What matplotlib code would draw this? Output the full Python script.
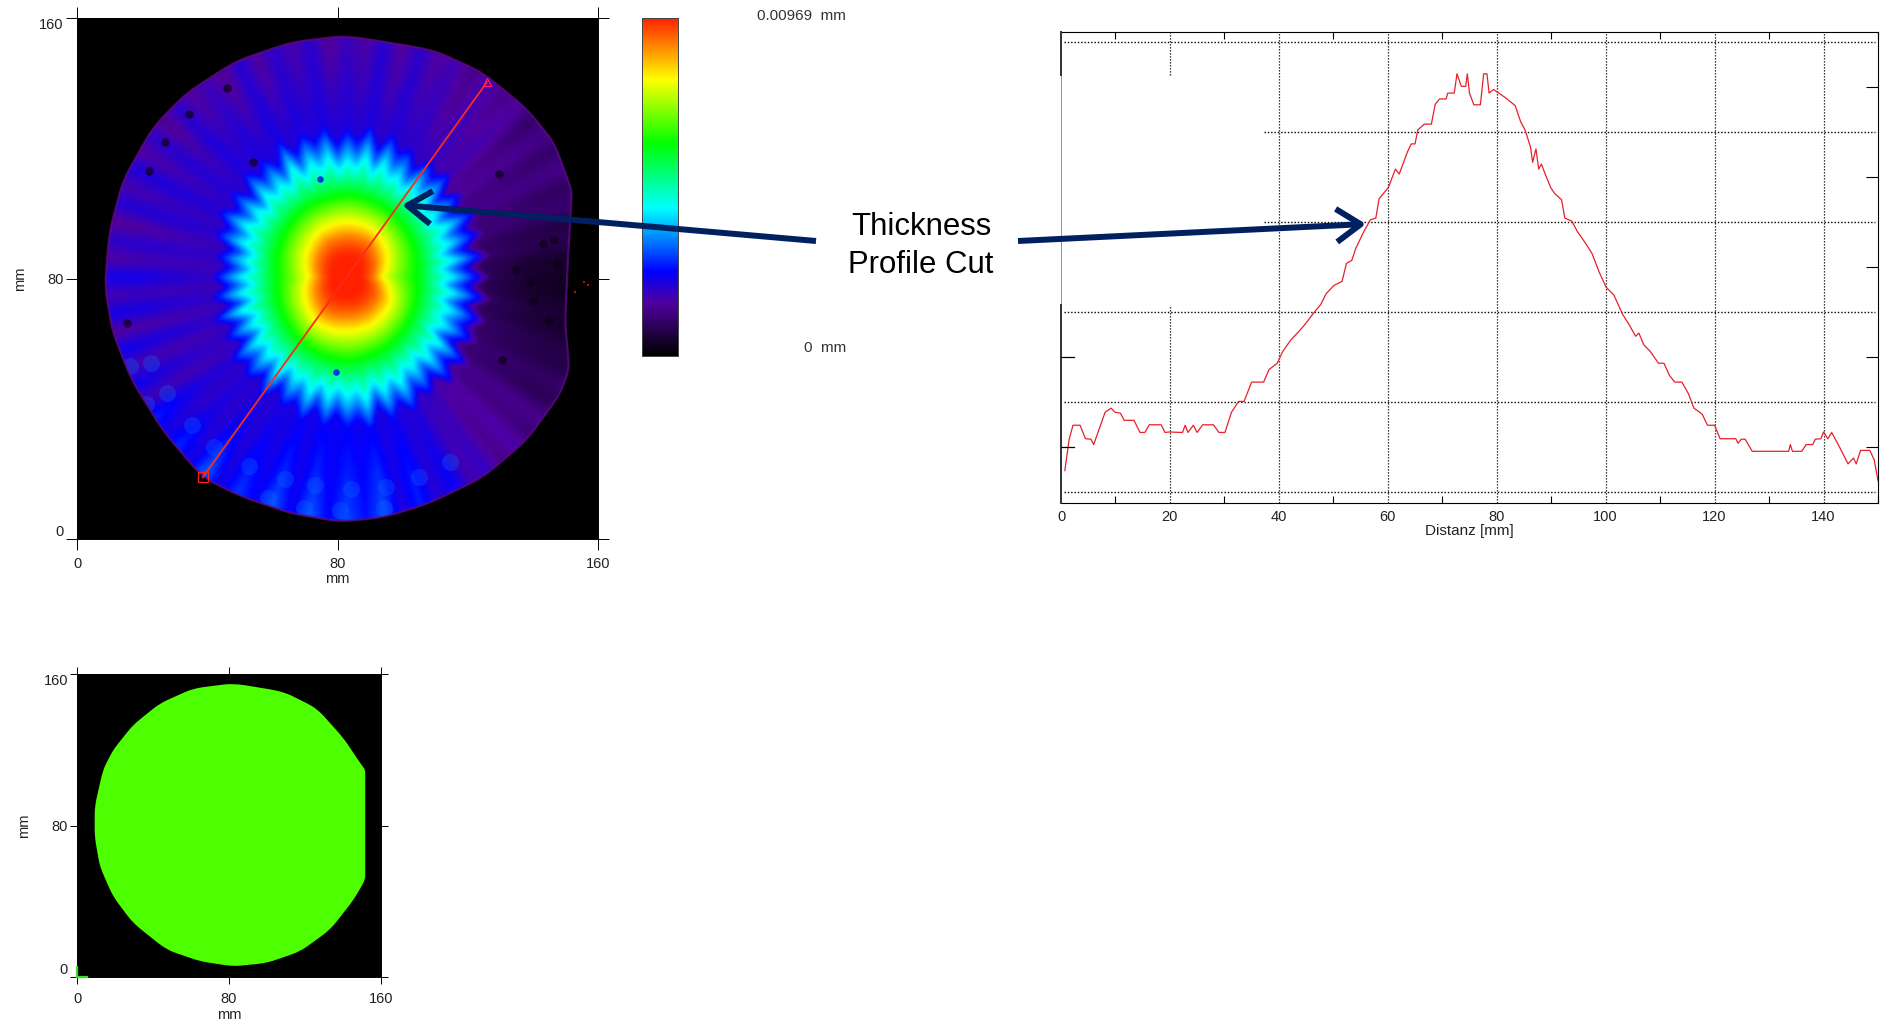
import numpy as np
import matplotlib
matplotlib.use('Agg')
import matplotlib.pyplot as plt
from matplotlib.colors import LinearSegmentedColormap
from matplotlib.patches import Polygon, FancyArrowPatch

plt.rcParams['font.family'] = ['Liberation Sans', 'DejaVu Sans']

# profile cut (right chart), distance in mm, thickness in um
distance = [0.7,1.5,2.2,3.5,4.5,5.5,6.0,7.0,8.1,9.2,9.9,10.9,11.6,13.4,14.5,15.4,16.2,18.4,19.1,19.9,
            22.3,22.8,23.3,24.3,25.0,26.0,28.0,29.0,30.1,31.3,32.6,33.6,35.0,37.2,38.2,39.7,40.7,42.2,43.7,44.9,
            46.2,47.7,48.7,50.1,51.6,52.4,53.4,54.1,55.6,56.8,57.8,58.4,60.1,61.4,62.1,63.6,64.3,65.0,65.5,66.7,
            68.0,68.7,69.5,70.7,71.0,72.2,72.7,73.5,74.3,74.6,75.0,75.8,77.0,77.6,78.2,78.6,79.4,80.4,81.9,83.4,
            84.4,85.2,86.2,86.6,87.2,87.7,88.2,88.9,89.9,90.6,91.9,92.5,93.8,94.8,96.3,97.5,98.8,100.1,101.5,103.1,
            104.3,105.5,106.1,107.0,108.2,109.7,110.7,111.7,112.7,114.0,115.2,116.2,117.7,118.7,120.0,121.0,123.9,124.3,124.9,125.6,
            126.9,133.6,133.9,134.3,136.0,136.8,138.0,138.5,139.5,140.0,140.8,141.5,143.0,144.5,145.5,146.0,146.8,148.5,149.3,150.0]
thickness = [0.47,1.17,1.48,1.48,1.18,1.17,1.05,1.39,1.77,1.86,1.77,1.75,1.59,1.59,1.32,1.32,1.49,1.49,1.32,1.33,
             1.32,1.48,1.32,1.48,1.32,1.49,1.49,1.32,1.32,1.77,2.01,2.01,2.44,2.44,2.72,2.86,3.12,3.38,3.57,3.74,
             3.95,4.17,4.41,4.59,4.68,5.08,5.15,5.41,5.79,6.05,6.09,6.52,6.77,7.18,7.07,7.56,7.74,7.74,8.05,8.18,
             8.18,8.62,8.74,8.74,8.87,8.87,9.30,9.02,9.02,9.30,8.87,8.61,8.61,9.30,9.30,8.87,8.95,8.87,8.74,8.59,
             8.23,8.05,7.67,7.33,7.63,7.18,7.29,7.07,6.77,6.64,6.50,6.09,6.02,5.79,5.53,5.30,4.89,4.55,4.38,3.95,
             3.72,3.46,3.53,3.27,3.12,2.86,2.86,2.59,2.44,2.44,2.18,1.86,1.73,1.48,1.48,1.18,1.18,1.08,1.17,1.17,
             0.90,0.90,1.05,0.90,0.90,1.05,1.05,1.17,1.18,1.33,1.18,1.32,0.98,0.62,0.75,0.62,0.92,0.92,0.71,0.25]

# wafer outlines, mm
wafer_x = [82.4,109.4,124.6,138.0,146.5,151.6,151.9,150.7,149.9,151.2,148.2,138.1,124.6,107.7,94.2,80.8,65.6,50.4,38.6,26.8,16.7,10.8,8.6,9.9,14.2,23.4,33.6,48.7,65.6]
wafer_y = [154.6,150.2,143.2,132.2,121.8,107.9,105.6,84.8,66.3,52.4,44.3,30.4,18.9,10.8,6.7,5.3,7.9,13.1,18.9,32.7,48.9,64.0,77.9,94.1,110.3,126.5,136.9,146.7,152.5]
disc_x = [82.3,108.7,126.2,140.3,149.1,151.7,151.7,151.7,151.7,145.6,133.3,117.5,99.9,82.3,64.7,47.1,29.5,19.0,12.0,9.3,9.3,13.7,19.0,29.5,43.6,61.2]
disc_y = [155.1,150.7,141.9,126.1,112.9,109.4,100.0,60.0,51.3,40.8,25.0,13.5,7.4,5.6,8.3,14.4,28.5,42.5,58.4,74.2,90.0,109.4,119.9,133.1,144.5,152.4]

# thickness map, um: slowly varying outer part on a 20 mm grid (rows from y=160 down)
bg_axis_x = [0,20,40,60,80,100,120,140,160]
bg_axis_y = [160,140,120,100,80,60,40,20,0]
bg_rows = [[1.5,1.5,1.5,1.6,1.6,1.6,1.5,1.5,1.5],
           [1.5,1.5,1.6,1.8,1.9,1.8,1.6,1.2,1.2],
           [1.5,1.7,1.9,2.1,2.2,2.0,1.6,1.2,1.1],
           [1.7,1.8,1.9,2.1,2.3,1.9,1.3,1.0,0.8],
           [1.8,1.9,1.8,2.0,2.3,1.9,1.0,0.4,0.2],
           [1.8,1.8,1.8,2.0,2.3,2.0,1.1,0.7,0.4],
           [2.1,2.2,2.0,2.1,2.3,2.1,1.5,1.1,1.0],
           [2.4,2.5,2.6,2.4,2.5,2.4,1.9,1.4,1.2],
           [2.6,2.6,2.8,2.8,2.8,2.5,2.0,1.4,1.2]]

# central hump: radius to the blue edge and shape of the red core, by direction
hump_angle = [0,30,60,90,120,150,180,210,240,270,300,330,360]
hump_radius = [38,40,42,44,43,41,38,40,43,45,43,40,38]
core_factor = [0.78,0.95,1.1,1.05,1.05,0.95,0.85,1.0,1.1,1.0,1.05,1.05,0.78]
level_pos = [0,0.14,0.2,0.27,0.37,0.57,0.79,1.0,1.18]
level_val = [9.69,9.65,9.4,8.9,7.9,6.1,4.2,2.4,0]
# rays around the hump, one value every 4.5 degrees
rays = [0.06,-0.05,0.07,-0.06,0.05,-0.03,0.08,-0.05,0.04,-0.07,0.07,-0.02,0.05,-0.07,0.03,-0.03,0.07,-0.06,0.08,-0.04,
        0.03,-0.07,0.07,-0.02,0.06,-0.05,0.09,-0.06,0.04,-0.03,0.07,-0.07,0.05,-0.04,0.08,-0.02,0.06,-0.07,0.03,-0.05,
        0.07,-0.03,0.07,-0.06,0.09,-0.05,0.04,-0.07,0.07,-0.02,0.05,-0.05,0.08,-0.07,0.03,-0.04,0.07,-0.06,0.06,-0.05,
        0.04,-0.02,0.08,-0.07,0.06,-0.04,0.07,-0.05,0.03,-0.06,0.07,-0.03,0.08,-0.07,0.05,-0.02,0.06,-0.05,0.07,-0.04,0.06]

# small features on the map, mm
dark_x = [129.6,130.5,34.4,26.9,15.3,46.2,22.1,54.1,143.2,146.6,134.8,139.0,139.9,144.9,147.4]
dark_y = [112.0,55.0,130.5,121.8,66.3,138.6,113.0,115.8,90.6,91.7,82.5,79.0,73.2,67.4,84.8]
cell_x = [35.2,42.0,52.9,64.0,73.2,84.0,95.0,105.1,114.5,58.8,80.8,69.8,94.2,22.6,16.4,27.7,21.1]
cell_y = [35.0,28.1,22.3,18.3,16.5,15.4,16.0,18.9,23.5,12.5,9.0,9.6,9.6,54.2,53.0,44.9,41.4]
hole_x = [74.5,79.4]
hole_y = [110.6,51.2]
speck_x = [155.8,157.0,153.0]
speck_y = [79.0,78.0,76.0]

cut_x = [38.6,125.9]
cut_y = [18.9,140.3]

color_pos = [0,0.156,0.249,0.436,0.628,0.816,1.0]
color_val = ['#000000','#5000a0','#0000ff','#00ffff','#00ff00','#ffff00','#ff2000']
rainbow = LinearSegmentedColormap.from_list('rainbow_map',list(zip(color_pos,color_val)))

W,H = 1890,1021
def px_axes(l,t,r,b):
    return [l/W,1-b/H,(r-l)/W,(b-t)/H]

def smooth_outline(xs,ys,passes=3):
    # corner cutting, the outlines were read at a few points only
    pts = np.column_stack([xs,ys])
    for i in range(passes):
        nxt = np.roll(pts,-1,axis=0)
        pts = np.column_stack([0.85*pts+0.15*nxt,0.15*pts+0.85*nxt]).reshape(-1,2)
    return pts

def map_ticks(ax,ticklen,size,xpad):
    ax.set_xlim(0,160)
    ax.set_ylim(0,160)
    ax.set_xticks([0,80,160])
    ax.set_yticks([0,80,160])
    ax.tick_params(direction='out',length=ticklen,width=0.7,top=True,right=True,labelsize=size,
                   labelcolor='#222222',pad=1.5)
    ax.tick_params(axis='x',pad=xpad)
    labels = ax.get_yticklabels()
    labels[0].set_va('bottom')
    labels[2].set_va('top')
    for s in ax.spines.values():
        s.set_linewidth(0.7)

fig = plt.figure(figsize=(W/100,H/100),dpi=100)

# thickness map
ax1 = fig.add_axes(px_axes(77,18,598,539))
ax1.set_facecolor('black')
xg = np.linspace(0,160,200)
yg = np.linspace(160,0,200)
part = np.array([np.interp(xg,bg_axis_x,row) for row in bg_rows])
outer = np.array([np.interp(yg,bg_axis_y[::-1],part[::-1,j]) for j in range(len(xg))]).T
gx,gy = np.meshgrid(xg,yg)
dx,dy = gx-83,gy-80.5
r = np.hypot(dx,dy)
ang = np.degrees(np.arctan2(dy,dx))%360
radius = np.interp(ang,hump_angle,hump_radius)
s = r/radius
mult = 1+(np.interp(ang,hump_angle,core_factor)-1)*np.clip((0.6-s)/0.3,0,1)
ray = np.interp(ang,np.arange(len(rays))*4.5,rays)
sn = s/mult-ray*np.clip((s-0.62)*4,0,1)
hump = np.interp(sn,level_pos,level_val)
field = np.maximum(outer*(1+3*ray*np.clip(s-0.9,0,1)),hump)
im = ax1.imshow(field,extent=(0,160,0,160),cmap=rainbow,vmin=0,vmax=9.69,aspect='auto',
                interpolation='bicubic',zorder=1)
wafer = Polygon(smooth_outline(wafer_x,wafer_y),closed=True,transform=ax1.transData,
                fc='none',ec='#5a0a80',lw=1.6,alpha=0.8,zorder=5)
ax1.add_patch(wafer)
im.set_clip_path(wafer)
cells = ax1.scatter(cell_x,cell_y,s=150,c='#0f68ff',alpha=0.3,lw=0,zorder=2)
cells.set_clip_path(wafer)
dark = ax1.scatter(dark_x,dark_y,s=38,c='#0c0018',alpha=0.7,lw=0,zorder=2)
dark.set_clip_path(wafer)
ax1.scatter(hole_x,hole_y,s=22,c='#0038e0',lw=0,zorder=3)
ax1.scatter(speck_x,speck_y,s=2,c='#c01010',lw=0,marker='s',zorder=3)
ax1.plot(cut_x,cut_y,color='#ff2a1a',lw=1.3,zorder=6)
ax1.plot(cut_x[0],cut_y[0],'s',mfc='none',mec='#ff2020',ms=7,mew=0.9,zorder=6)
ax1.plot(cut_x[1],cut_y[1],'^',mfc='none',mec='#ff2060',ms=6,mew=0.9,zorder=6)
map_ticks(ax1,8,10.5,5)
ax1.set_xlabel('mm',fontsize=10.5,color='#222222',labelpad=1)
ax1.set_ylabel('mm',fontsize=10.5,color='#222222',labelpad=9)

# colour scale
ax_bar = fig.add_axes(px_axes(642,18,678,356))
ax_bar.imshow(np.linspace(1,0,256).reshape(-1,1),cmap=rainbow,aspect='auto')
ax_bar.set_xticks([])
ax_bar.set_yticks([])
for sp in ax_bar.spines.values():
    sp.set_linewidth(0.7)
    sp.set_color('#444444')
fig.text(846/W,1-16/H,'0.00969  mm',ha='right',va='center',fontsize=11,color='#333333')
fig.text(846/W,1-348/H,'0  mm',ha='right',va='center',fontsize=11,color='#333333')

# second map, uniform disc
ax2 = fig.add_axes(px_axes(77,674,381,977))
ax2.set_facecolor('black')
ax2.add_patch(Polygon(smooth_outline(disc_x,disc_y),closed=True,fc='#4dff00',ec='none'))
ax2.plot([0,5.5],[0,0],color='#35e020',lw=1.6,clip_on=False,zorder=4)
ax2.plot([0,0],[0,5.5],color='#35e020',lw=1.6,clip_on=False,zorder=4)
map_ticks(ax2,5,10.5,6)
ax2.set_xlabel('mm',fontsize=10.5,color='#222222',labelpad=1)
ax2.set_ylabel('mm',fontsize=10.5,color='#222222',labelpad=9)

# profile
ax3 = fig.add_axes(px_axes(1061,32,1878,503))
ax3.plot(distance,thickness,color='#e8202a',lw=0.9,zorder=3)
ax3.set_xlim(0,150)
ax3.set_ylim(-0.25,10.23)
ax3.set_xticks(range(0,141,20))
ax3.set_xticks(range(10,151,20),minor=True)
ax3.set_yticks([1,3,5,7,9])
ax3.set_yticklabels([])
ax3.tick_params(axis='y',direction='in',length=9,width=0.8,left=False,right=True)
ax3.tick_params(axis='x',which='both',direction='in',length=5,width=0.8,top=True,labelsize=10.5,labelcolor='#222222',pad=5)
ax3.tick_params(axis='x',which='major',length=0)
ax3.set_xlabel('Distanz [mm]',fontsize=11,color='#222222',labelpad=0)
dots = (0,(1,1.4))
for level,x0 in [(10,0.5),(8,37.2),(6,37.2),(4,0.5),(2,0.5),(0,0.5)]:
    ax3.plot([x0,149.5],[level,level],color='black',lw=1.0,ls=dots,zorder=1)
for xv in [40,60,80,100,120,140]:
    ax3.plot([xv,xv],[-0.25,10.23],color='black',lw=0.9,ls=dots,zorder=1)
ax3.plot([20,20],[-0.25,4.15],color='black',lw=0.9,ls=dots,zorder=1)
ax3.plot([20,20],[9.27,10.23],color='black',lw=0.9,ls=dots,zorder=1)
# the left edge is only partly there, thin in the middle
ax3.spines['left'].set_linewidth(0.5)
ax3.spines['left'].set_color('#666666')
for y0,y1 in [(-0.25,4.15),(9.27,10.23)]:
    ax3.plot([0,0],[y0,y1],color='#333333',lw=1.4,clip_on=False,zorder=4)
for yv in [1,3]:
    ax3.plot([0,2.4],[yv,yv],color='black',lw=0.9,zorder=4)

# annotation
fig.text(921/W,1-227/H,'Thickness',ha='center',va='center',fontsize=22.4)
fig.text(921/W,1-265/H,'Profile Cut',ha='center',va='center',fontsize=22.4)
for tip,tail in [((402,205),(816,241)),((1366,224),(1018,241))]:
    fig.add_artist(FancyArrowPatch(
        (tail[0]/W,1-tail[1]/H),(tip[0]/W,1-tip[1]/H),transform=fig.transFigure,
        arrowstyle='->,head_length=1.25,head_width=0.85',mutation_scale=14,
        color='#002060',lw=4.3,shrinkA=0,shrinkB=0,capstyle='butt',zorder=10))

fig.savefig('out.png',dpi=100)
